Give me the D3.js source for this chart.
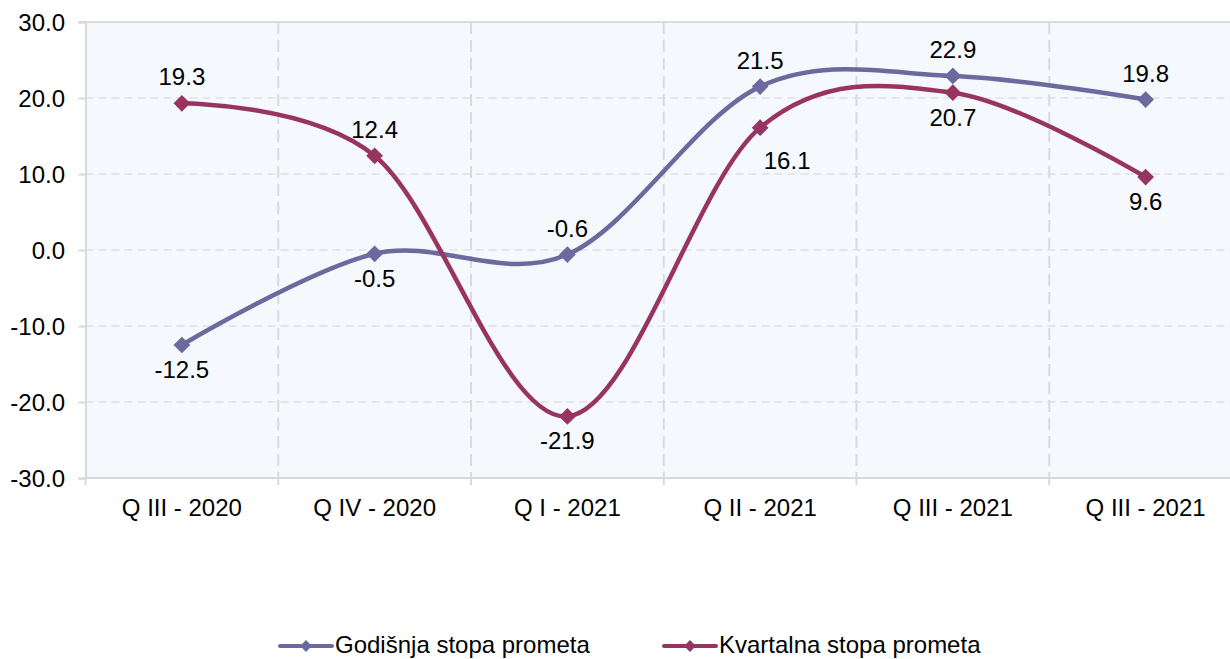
<!DOCTYPE html>
<html>
<head>
<meta charset="utf-8">
<script src="https://cdn.jsdelivr.net/npm/d3@7"></script>
<style>
  body { margin: 0; background: #fff; }
  text { font-family: "Liberation Sans", Arial, sans-serif; fill: #000; }
</style>
</head>
<body>
<div id="chart"></div>
<script>
let width = 1230,
    height = 659

// data
let categories = ["Q III - 2020", "Q IV - 2020", "Q I - 2021", "Q II - 2021", "Q III - 2021", "Q III - 2021"]
let godisnja = [-12.5, -0.5, -0.6, 21.5, 22.9, 19.8]
let kvartalna = [19.3, 12.4, -21.9, 16.1, 20.7, 9.6]
let yTicks = [-30, -20, -10, 0, 10, 20, 30]

let series = [
  {name: "Godišnja stopa prometa", values: godisnja, color: "#6a6a9f",
   labelPos: ["below", "below", "above", "above", "above", "above"]},
  {name: "Kvartalna stopa prometa", values: kvartalna, color: "#983462",
   labelPos: ["above", "above", "below", "belowRight", "below", "below"]}
]

let plot = {left: 85.5, top: 22, bottom: 478}
let band = 192.75
let fontSize = "24px"
let fmt = d => d3.format(".1f")(d).replace("−", "-")

let svg = d3.select("#chart")
  .append("svg")
    .attr("width", width)
    .attr("height", height)

let x = d3.scaleBand()
  .domain(d3.range(categories.length))
  .range([plot.left, plot.left + band * categories.length])

let y = d3.scaleLinear()
  .domain([-30, 30])
  .range([plot.bottom, plot.top])

// plot background
svg.append("rect")
  .attr("x", plot.left)
  .attr("y", plot.top)
  .attr("width", band * categories.length)
  .attr("height", plot.bottom - plot.top)
  .attr("fill", "#f5f8fc")

// horizontal grid
svg.append("g")
  .selectAll("line")
  .data(yTicks.filter(d => d != -30 && d != 30))
  .enter()
  .append("line")
    .attr("x1", plot.left)
    .attr("x2", width)
    .attr("y1", d => y(d))
    .attr("y2", d => y(d))
    .attr("stroke", "#e6e6e6")
    .attr("stroke-width", 2)
    .attr("stroke-dasharray", "8,5")

// top line
svg.append("line")
  .attr("x1", plot.left - 7).attr("x2", width)
  .attr("y1", y(30)).attr("y2", y(30))
  .attr("stroke", "#dcdcdc").attr("stroke-width", 2)

// vertical grid at category boundaries
svg.append("g")
  .selectAll("line")
  .data(d3.range(1, categories.length))
  .enter()
  .append("line")
    .attr("x1", d => x(d))
    .attr("x2", d => x(d))
    .attr("y1", plot.top)
    .attr("y2", plot.bottom)
    .attr("stroke", "#dadada")
    .attr("stroke-width", 2)
    .attr("stroke-dasharray", "12,6")

// y axis
let yAxis = d3.axisLeft(y)
  .tickValues(yTicks)
  .tickFormat(fmt)
  .tickSize(7)
  .tickPadding(14)

let yg = svg.append("g")
  .attr("transform", `translate(${plot.left},0)`)
  .call(yAxis)
yg.select(".domain").attr("stroke", "#d9d9d9").attr("stroke-width", 2)
yg.selectAll(".tick line").attr("stroke", "#d9d9d9").attr("stroke-width", 2)
yg.selectAll(".tick text")
  .style("font-size", fontSize)
  .style("font-family", "Liberation Sans, Arial, sans-serif")
  .attr("fill", "#000")
  .attr("x", -20.5)
  .attr("dy", "0.35em")

// x axis
let xAxis = d3.axisBottom(x)
  .tickFormat(i => categories[i])
  .tickSize(0)
  .tickPadding(21)

let xg = svg.append("g")
  .attr("transform", `translate(0,${plot.bottom})`)
  .call(xAxis)
xg.select(".domain").remove()
xg.selectAll(".tick text")
  .style("font-size", fontSize)
  .style("font-family", "Liberation Sans, Arial, sans-serif")
  .attr("fill", "#000")

svg.append("line")
  .attr("x1", plot.left).attr("x2", width)
  .attr("y1", plot.bottom).attr("y2", plot.bottom)
  .attr("stroke", "#d9d9d9").attr("stroke-width", 2)

// x ticks at boundaries
svg.append("g")
  .selectAll("line")
  .data(d3.range(0, categories.length))
  .enter()
  .append("line")
    .attr("x1", d => x(d))
    .attr("x2", d => x(d))
    .attr("y1", plot.bottom)
    .attr("y2", plot.bottom + 7)
    .attr("stroke", "#d9d9d9")
    .attr("stroke-width", 2)

let line = d3.line()
  .x((d, i) => x(i) + x.bandwidth() / 2)
  .y(d => y(d))
  .curve(d3.curveCardinal.tension(0))

let marker = d3.symbol().type(d3.symbolSquare).size(140)

series.forEach(s => {
  let g = svg.append("g")
  g.append("path")
    .attr("d", line(s.values))
    .attr("fill", "none")
    .attr("stroke", s.color)
    .attr("stroke-width", 4.5)

  g.selectAll("path.pt")
    .data(s.values)
    .enter()
    .append("path")
      .attr("class", "pt")
      .attr("d", marker)
      .attr("transform", (d, i) => `translate(${x(i) + x.bandwidth() / 2},${y(d)}) rotate(45)`)
      .attr("fill", s.color)
})

// data labels
series.forEach(s => {
  svg.append("g")
    .selectAll("text")
    .data(s.values)
    .enter()
    .append("text")
      .text(fmt)
      .attr("x", (d, i) => x(i) + x.bandwidth() / 2 + (s.labelPos[i] == "belowRight" ? 27 : 0))
      .attr("y", (d, i) => {
        let p = s.labelPos[i]
        if (p == "above") return y(d) - 18
        if (p == "belowRight") return y(d) + 41
        return y(d) + 33
      })
      .attr("text-anchor", "middle")
      .style("font-size", fontSize)
})

// legend
let legend = svg.append("g")
  .attr("transform", `translate(0,${height - 13})`)

let legendX = [280, 664]
series.forEach((s, i) => {
  let lg = legend.append("g").attr("transform", `translate(${legendX[i]},0)`)
  lg.append("line")
    .attr("x1", 0).attr("x2", 52)
    .attr("y1", 0).attr("y2", 0)
    .attr("stroke", s.color)
    .attr("stroke-width", 4)
    .attr("stroke-linecap", "round")
  lg.append("path")
    .attr("d", d3.symbol().type(d3.symbolSquare).size(70))
    .attr("transform", "translate(26,0) rotate(45)")
    .attr("fill", s.color)
  lg.append("text")
    .text(s.name)
    .attr("x", 55)
    .attr("y", 7)
    .style("font-size", fontSize)
})
</script>
</body>
</html>
